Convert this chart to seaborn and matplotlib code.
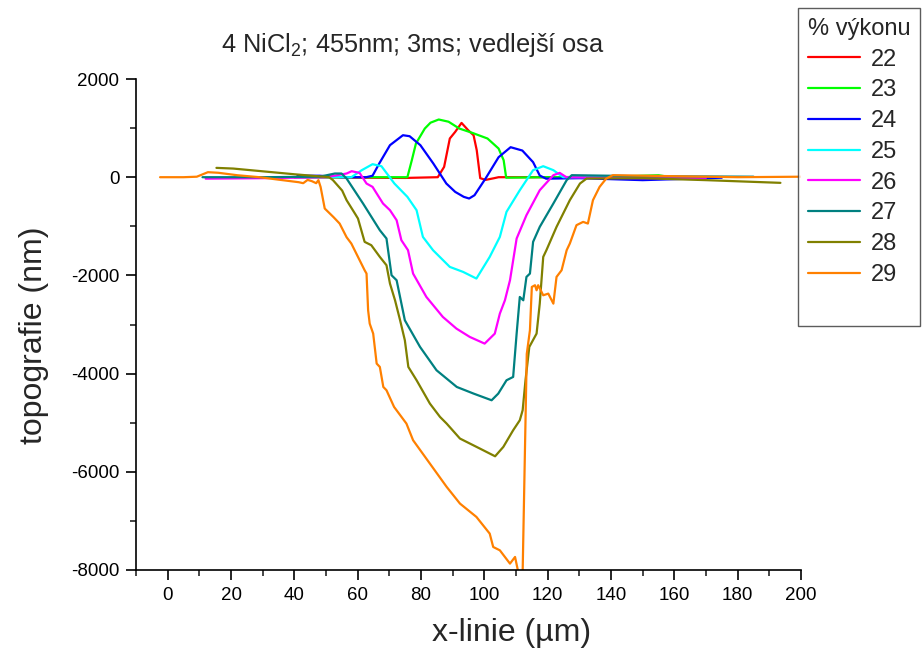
import numpy as np
import pandas as pd
import matplotlib
matplotlib.use("Agg")
import matplotlib.pyplot as plt
import seaborn as sns
from matplotlib.ticker import MultipleLocator
from matplotlib.lines import Line2D

# ---- data ----
x22 = [40, 60, 75, 85.3, 87.3, 89.1, 90.8, 92.8, 94.9, 96.6, 97.6, 98.7, 100.4, 103.1, 104.5, 120, 140, 150]
y22 = [0, -10, -15, 0, 210, 788, 923, 1106, 957, 855, 550, -20, -55, -20, 0, 0, 0, 0]

x23 = [40, 60, 75.7, 77.1, 78.4, 81.2, 83.0, 85.6, 88.7, 92.1, 96.2, 101.0, 104.5, 106.1, 106.9, 120, 140, 155, 157]
y23 = [0, 0, 0, 346, 686, 991, 1110, 1175, 1130, 991, 903, 788, 584, 346, -10, 0, 10, 40, 20]

x24 = [41, 48, 55, 62.7, 64.7, 66.8, 70.2, 74.3, 76.4, 79.8, 83.9, 88.0, 90.8, 93.5, 95.2, 96.9, 100.4, 104.5,
       108.3, 112.0, 115.4, 117.5, 119.5, 130, 150, 175]
y24 = [30, 30, 0, 0, 30, 278, 652, 855, 835, 652, 278, -129, -299, -400, -434, -367, -25, 407,
       611, 543, 306, 34, -30, -20, -60, -10]

x25 = [40, 58, 61.3, 64.7, 67.5, 71.6, 75.7, 78.6, 80.6, 83.8, 89.1, 93.3, 97.5, 101.7, 104.9, 107.0, 111.2,
       115.4, 118.6, 121.8, 124.9, 140, 155]
y25 = [0, 0, 143, 265, 224, -129, -400, -672, -1216, -1487, -1827, -1929, -2064, -1623, -1216, -706, -265,
       143, 224, 143, 0, 0, 10]

x26 = [12, 30, 50, 56.5, 58.1, 60.6, 62.8, 64.7, 68.0, 70.2, 72.3, 73.8, 75.9, 77.5, 81.7, 86.9, 91.2, 95.4,
       100.1, 103.3, 104.9, 106.5, 108.1, 110.2, 113.3, 117.5, 121.8, 123.8, 125.9, 150, 170]
y26 = [-30, -20, 0, 75, 122, 88, -129, -197, -536, -672, -876, -1283, -1487, -1963, -2439, -2846, -3084, -3253,
       -3389, -3186, -2778, -2507, -2099, -1249, -774, -265, 41, 88, 0, -20, -10]

x27 = [11, 30, 48, 52.8, 54.9, 56.5, 61.7, 67.0, 69.1, 70.7, 72.3, 74.9, 79.7, 84.9, 91.3, 96.6, 102.3, 104.4,
       107.0, 109.1, 110.2, 111.2, 112.3, 113.3, 114.4, 115.4, 117.5, 121.8, 126.0, 127.6, 150, 185]
y27 = [0, 0, 10, 75, 75, -27, -536, -1080, -1249, -1997, -2099, -2914, -3457, -3932, -4272, -4407, -4543, -4407,
       -4136, -4068, -3185, -2439, -2507, -2031, -1963, -1317, -1012, -536, -60, 41, 20, 10]

x28 = [15.4, 20.7, 30, 40, 51.0, 52.2, 55.1, 56.5, 59.2, 60.1, 62.2, 64.3, 67.0, 69.1, 70.2, 71.8, 73.4, 74.9,
       76.0, 78.6, 82.8, 86.0, 88.1, 92.3, 98.6, 103.4, 106.0, 109.1, 111.2, 112.1, 113.0, 114.2, 116.5, 117.5,
       118.6, 119.6, 122.8, 127.0, 130.2, 132.3, 150, 170, 193.5]
y28 = [190, 176, 120, 60, 0, -60, -272, -468, -747, -842, -1317, -1385, -1623, -1793, -2166, -2507, -2914, -3321,
       -3864, -4135, -4610, -4882, -5018, -5323, -5527, -5684, -5493, -5154, -4950, -4746, -4135, -3457, -3185, -2575,
       -1623, -1487, -1012, -468, -129, -27, -20, -60, -115]

x29 = [-2.4, 5, 9.2, 12.7, 16, 22, 29, 35, 41.4, 42.8, 44.2, 45.5, 46.9, 47.6, 48.3, 49.6, 52.4, 54.3, 56.5,
       58.0, 62.2, 62.8, 63.3, 63.8, 64.9, 66.0, 67.0, 68.1, 69.1, 71.5, 75.4, 77.5, 82.8, 88.1, 92.3, 97.5,
       101.7, 102.8, 104.9, 108.1, 109.7, 110.7, 112.1, 113.4, 114.4, 115.0, 116.0, 116.5, 117.0, 118.6, 120.2,
       121.8, 122.8, 124.4, 126.0, 127.0, 129.1, 131.2, 132.7, 134.3, 136.4, 138.5, 140.6, 160, 180, 200]
y29 = [0, 0, 10, 102, 90, 40, 0, -50, -102, -122, -55, -80, -122, -60, -200, -638, -815, -944, -1222,
       -1351, -1895, -1963, -2710, -2982, -3185, -3796, -3864, -4272, -4339, -4679, -5018, -5357, -5832, -6307, -6647, -6919,
       -7259, -7531, -7599, -7870, -7734, -8040, -8040, -3600, -3117, -2235, -2200, -2303, -2200, -2405, -2371,
       -2575, -2031, -1895, -1487, -1351, -977, -910, -944, -468, -197, -27, 41, 20, 0, 10]

series_labels = ["22", "23", "24", "25", "26", "27", "28", "29"]
series_x = [x22, x23, x24, x25, x26, x27, x28, x29]
series_y = [y22, y23, y24, y25, y26, y27, y28, y29]
colors = ["#FF0000", "#00FF00", "#0000FF", "#00FFFF", "#FF00FF", "#008080", "#808000", "#FF8000"]

title = "4 NiCl$\\mathregular{_2}$; 455nm; 3ms; vedlejší osa"
xlabel = "x-linie (µm)"
ylabel = "topografie (nm)"
legend_title = "% výkonu"

# ---- build long-form table ----
frames = []
for lab, xs, ys in zip(series_labels, series_x, series_y):
    frames.append(pd.DataFrame({"x": xs, "y": ys, "vykon": lab}))
df = pd.concat(frames, ignore_index=True)

sns.set_theme(style="ticks")
plt.rcParams["font.family"] = ["Liberation Sans", "DejaVu Sans"]
plt.rcParams["mathtext.fontset"] = "custom"
plt.rcParams["mathtext.rm"] = "Liberation Sans"
plt.rcParams["axes.unicode_minus"] = False

fig = plt.figure(figsize=(9.22, 6.53), dpi=100)
ax = fig.add_axes([136 / 922, (653 - 570) / 653, (801 - 136) / 922, (570 - 79) / 653])

sns.lineplot(data=df, x="x", y="y", hue="vykon", hue_order=series_labels,
             palette=dict(zip(series_labels, colors)), estimator=None, sort=False,
             linewidth=1.6, ax=ax, legend=True)

ax.set_xlim(-10, 200)
ax.set_ylim(-8000, 2000)
ax.xaxis.set_major_locator(MultipleLocator(20))
ax.xaxis.set_minor_locator(MultipleLocator(10))
ax.yaxis.set_major_locator(MultipleLocator(2000))
ax.yaxis.set_minor_locator(MultipleLocator(1000))
ax.tick_params(axis="both", which="major", direction="out", length=7, width=1.2,
               labelsize=13.5, colors="black", pad=5)
ax.tick_params(axis="both", which="minor", direction="out", length=4, width=1.2)
for s in ["top", "right"]:
    ax.spines[s].set_visible(False)
for s in ["left", "bottom"]:
    ax.spines[s].set_linewidth(1.2)
    ax.spines[s].set_color("black")
ax.set_xlabel("")
ax.set_ylabel("")

fig.text(413 / 922, 1 - 45 / 653, title, ha="center", va="center", fontsize=18.3)
fig.text(512 / 922, 1 - 633 / 653, xlabel, ha="center", va="center", fontsize=23)
fig.text(34 / 922, 1 - 335 / 653, ylabel, ha="center", va="center", fontsize=23, rotation=90)

# legend outside, upper right (with a blank row for the empty space at the bottom)
handles, labels = ax.get_legend_handles_labels()
ax.get_legend().remove()
handles = list(handles) + [Line2D([], [], color="none")]
labels = list(labels) + [" "]
leg = fig.legend(handles, labels, title=legend_title, loc="upper left",
                 bbox_to_anchor=(798 / 922, 1 - 8 / 653), frameon=True, fancybox=False,
                 fontsize=17, title_fontsize=17, handlelength=2.2, handletextpad=0.45,
                 labelspacing=0.37, borderpad=0.42, borderaxespad=0)
leg._legend_box.align = "left"
leg.get_frame().set_edgecolor("#333333")
leg.get_frame().set_linewidth(1.0)
for line in leg.get_lines():
    line.set_linewidth(1.6)

fig.savefig("out.png", dpi=100)
